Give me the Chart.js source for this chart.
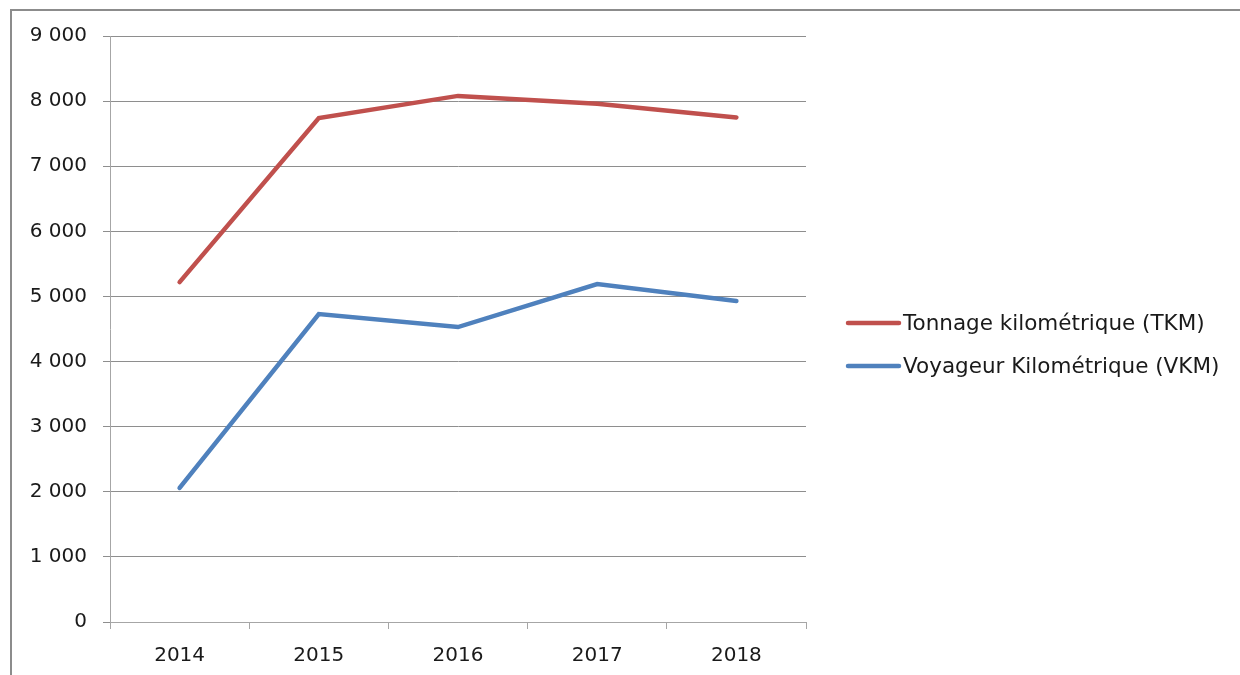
<!DOCTYPE html>
<html>
<head>
<meta charset="utf-8">
<script src="https://cdn.jsdelivr.net/npm/chart.js@4.4.1/dist/chart.umd.min.js"></script>
<style>
  html, body { margin: 0; padding: 0; background: #fff; overflow: hidden; }
  #frame {
    position: absolute; left: 10px; top: 9px; width: 1300px; height: 700px;
    border-left: 2px solid #8c8c8c; border-top: 2px solid #8c8c8c;
  }
  #wrap { position: absolute; left: 0; top: 0; width: 1240px; height: 675px; }
</style>
</head>
<body>
<div id="frame"></div>
<div id="wrap"><canvas id="chart"></canvas></div>
<script>
/* ── données ── */
const annees = ['2014', '2015', '2016', '2017', '2018'];
const tkm = [5220, 7740, 8080, 7960, 7750];
const vkm = [2060, 4730, 4530, 5190, 4930];
const yTicks = [0, 1000, 2000, 3000, 4000, 5000, 6000, 7000, 8000, 9000];

const FONT = 'DejaVu Sans';
const fmt = (n) => n >= 1000 ? Math.floor(n / 1000) + ' ' + String(n % 1000).padStart(3, '0') : String(n);

// Légende dessinée à droite de la zone de tracé
const legendPlugin = {
  id: 'sideLegend',
  afterDraw(chart) {
    const ctx = chart.ctx;
    const rows = [323, 366];
    ctx.save();
    chart.data.datasets.forEach((ds, i) => {
      const y = rows[i];
      ctx.strokeStyle = ds.borderColor;
      ctx.lineWidth = 4.5;
      ctx.lineCap = 'round';
      ctx.beginPath();
      ctx.moveTo(848, y);
      ctx.lineTo(899, y);
      ctx.stroke();
      ctx.fillStyle = '#1a1a1a';
      ctx.font = `21.5px "${FONT}"`;
      ctx.textBaseline = 'middle';
      ctx.textAlign = 'left';
      ctx.fillText(ds.label, 903, y + 1);
    });
    ctx.restore();
  },
};

new Chart(document.getElementById('chart'), {
  type: 'line',
  data: {
    labels: annees,
    datasets: [
      {
        label: 'Tonnage kilométrique (TKM)',
        data: tkm,
        borderColor: '#C0504D',
        borderWidth: 4.5,
        pointRadius: 0,
        tension: 0,
        borderCapStyle: 'round',
      },
      {
        label: 'Voyageur Kilométrique (VKM)',
        data: vkm,
        borderColor: '#4F81BD',
        borderWidth: 4.5,
        pointRadius: 0,
        tension: 0,
        borderCapStyle: 'round',
      },
    ],
  },
  options: {
    responsive: true,
    maintainAspectRatio: false,
    animation: false,
    layout: { padding: { left: 0, top: 36, right: 1240 - 806, bottom: 0 } },
    plugins: { legend: { display: false }, tooltip: { enabled: false } },
    scales: {
      x: {
        offset: true,
        grid: { display: true, offset: true, drawOnChartArea: false, drawTicks: true, tickLength: 7, color: '#a6a6a6' },
        border: { color: '#a6a6a6', width: 1 },
        ticks: { color: '#1a1a1a', font: { family: FONT, size: 20 }, padding: 15, maxRotation: 0 },
        afterFit: (s) => { s.height = 675 - 622; },
      },
      y: {
        min: 0,
        max: 9000,
        afterBuildTicks: (s) => { s.ticks = yTicks.map(v => ({ value: v })); },
        grid: { color: '#8e8e8e', tickLength: 7, lineWidth: 1 },
        border: { color: '#a6a6a6', width: 1 },
        ticks: { color: '#1a1a1a', font: { family: FONT, size: 20 }, padding: 16, callback: (v) => fmt(v) },
        afterFit: (s) => { s.width = 110; },
      },
    },
  },
  plugins: [legendPlugin],
});
</script>
</body>
</html>
